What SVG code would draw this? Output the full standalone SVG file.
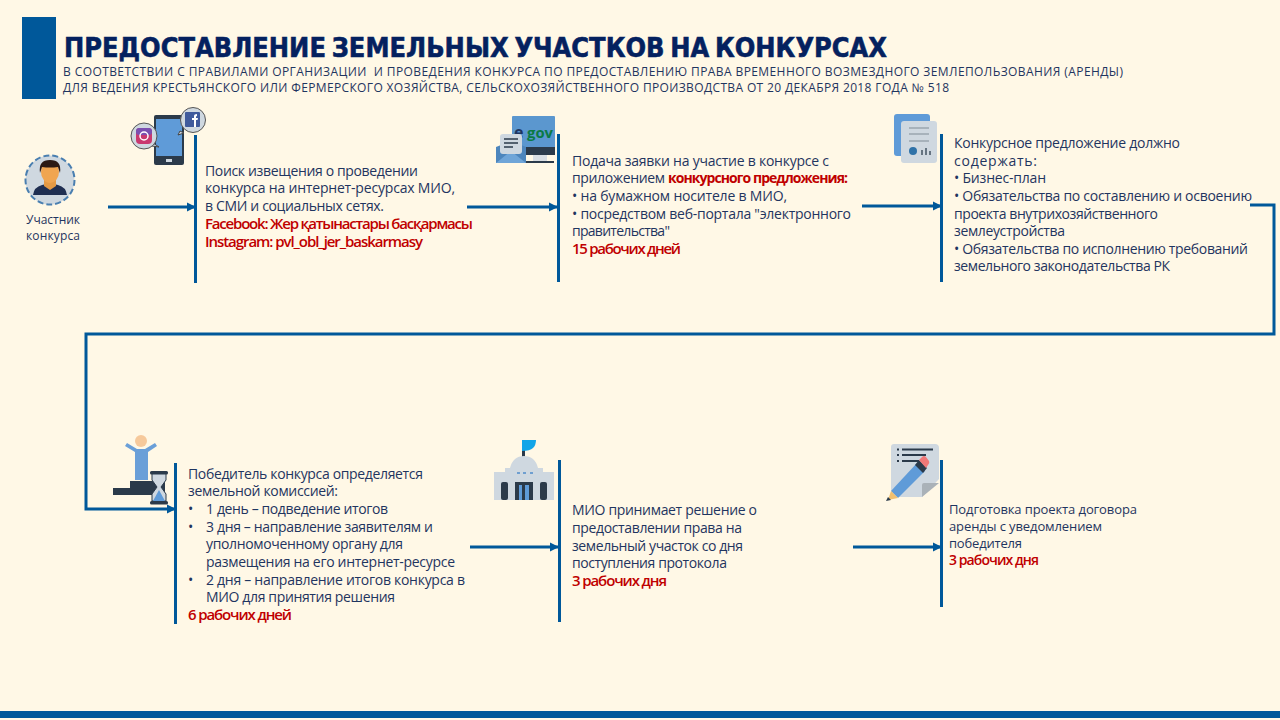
<svg xmlns="http://www.w3.org/2000/svg" width="1280" height="720" viewBox="0 0 1280 720">
<style>
text{font-family:"Open Sans","Noto Sans","Liberation Sans",sans-serif;fill:#1f3560}
.b{font-size:14px}
.s{font-size:13px}
.h{font-size:12px;white-space:pre}
.r{font-size:15px;fill:#c00000;font-weight:600}
.rs{font-size:14px;fill:#c00000;font-weight:600}
.t{font-size:27px;font-weight:800;fill:#04215f;stroke:#04215f;stroke-width:.6;word-spacing:-3px;font-family:"DejaVu Sans","Open Sans",sans-serif}
.bar{fill:#00589a}
.c{fill:none;stroke:#00589a;stroke-width:3}
.ink{fill:#2b3a4a}
.g{fill:#cfd8e0}
.bl{fill:#5f9bd8}
</style>
<defs>
<marker id="a" markerUnits="userSpaceOnUse" markerWidth="10" markerHeight="10" refX="8" refY="5" orient="auto"><path d="M0 0.5L9 5L0 9.500Z" fill="#00589a"/></marker>
</defs>
<rect width="1280" height="720" fill="#fff8e6"/>
<g id="header">
<rect class="bar" x="22" y="17" width="34" height="82"/>
<text class="t" x="64" y="57" textLength="823" lengthAdjust="spacingAndGlyphs">ПРЕДОСТАВЛЕНИЕ ЗЕМЕЛЬНЫХ УЧАСТКОВ НА КОНКУРСАХ</text>
<text class="h" x="63" y="76" textLength="1060" lengthAdjust="spacing">В СООТВЕТСТВИИ С ПРАВИЛАМИ ОРГАНИЗАЦИИ  И ПРОВЕДЕНИЯ КОНКУРСА ПО ПРЕДОСТАВЛЕНИЮ ПРАВА ВРЕМЕННОГО ВОЗМЕЗДНОГО ЗЕМЛЕПОЛЬЗОВАНИЯ (АРЕНДЫ)</text>
<text class="h" x="63" y="92" textLength="886" lengthAdjust="spacing">ДЛЯ ВЕДЕНИЯ КРЕСТЬЯНСКОГО ИЛИ ФЕРМЕРСКОГО ХОЗЯЙСТВА, СЕЛЬСКОХОЗЯЙСТВЕННОГО ПРОИЗВОДСТВА ОТ 20 ДЕКАБРЯ 2018 ГОДА № 518</text>
</g>
<g id="connectors">
<path class="c" marker-end="url(#a)" d="M108 207H195"/>
<path class="c" marker-end="url(#a)" d="M467 207H557"/>
<path class="c" marker-end="url(#a)" d="M862 206H941"/>
<path class="c" marker-end="url(#a)" d="M1250 205H1274V334H86V509H175"/>
<path class="c" marker-end="url(#a)" d="M470 547H558"/>
<path class="c" marker-end="url(#a)" d="M853 547H941"/>
</g>
<g id="participant">
<circle cx="50" cy="180" r="24.500" fill="#cfd8e0" stroke="#4a7fb0" stroke-width="2" stroke-dasharray="6 3"/>
<path d="M33 195q1-8 9-10l8-2 8 2q8 2 9 10Z" fill="#1f2f52"/>
<path d="M44 176h12v10l-6 4-6-4Z" fill="#e59a45"/>
<ellipse cx="50" cy="172" rx="9" ry="11" fill="#f0a550"/>
<path d="M40 173q-2-13 10-13t10 13l-2-6q-8 1-16 0Z" fill="#2c1a14"/>
<text class="h" x="26" y="224" textLength="54" lengthAdjust="spacing">Участник</text>
<text class="h" x="26" y="240" textLength="54" lengthAdjust="spacing">конкурса</text>
</g>
<g id="step1">
<rect class="bar" x="194" y="135" width="3" height="148"/>
<rect class="ink" x="154" y="115" width="30" height="50" rx="2"/>
<rect class="bl" x="156" y="119" width="26" height="37"/>
<rect x="166" y="159" width="6" height="3" fill="#cfd8e0"/>
<path d="M180 131l-2 4 6-2Z" fill="#cfd8e0" stroke="#444"/>
<circle cx="193" cy="120" r="12.500" fill="#cfd8e0" stroke="#555"/>
<rect x="185" y="112" width="15" height="15" rx="1" fill="#3f5a9c"/>
<path d="M194 127v-7h-2v-2h2v-2q0-2 3-2v2q-1 0-1 1v1h2l-.5 2H196v7Z" fill="#fff"/>
<path d="M153 143l6 4-7-1Z" fill="#cfd8e0" stroke="#444"/>
<circle cx="144" cy="136" r="13" fill="#cfd8e0" stroke="#555"/>
<rect x="136" y="128" width="16" height="16" rx="4" fill="#c9386f"/>
<rect x="136" y="128" width="16" height="7" rx="3" fill="#7b4fb0"/>
<circle cx="144" cy="136" r="4" fill="none" stroke="#fff" stroke-width="1.500"/>
<text class="b" x="205" y="176" textLength="213" lengthAdjust="spacing">Поиск извещения о проведении</text>
<text class="b" x="205" y="193" textLength="250" lengthAdjust="spacing">конкурса на интернет-ресурсах МИО,</text>
<text class="b" x="205" y="211" textLength="179" lengthAdjust="spacing">в СМИ и социальных сетях.</text>
<text class="r" x="205" y="229" textLength="268" lengthAdjust="spacing">Facebook: Жер қатынастары басқармасы</text>
<text class="r" x="205" y="247" textLength="218" lengthAdjust="spacing">Instagram: pvl_obl_jer_baskarmasy</text>
</g>
<g id="step2">
<rect class="bar" x="557" y="134" width="3" height="148"/>
<rect x="512" y="116" width="43" height="39" rx="1" fill="#5b97cf"/>
<text x="514" y="138" style="font-size:16px;font-weight:700;fill:#1f3560">e</text>
<text x="527" y="138" textLength="26" lengthAdjust="spacingAndGlyphs" style="font-size:15px;font-weight:700;fill:#0a7a45">gov</text>
<rect class="ink" x="526" y="147" width="29" height="8"/>
<rect x="533" y="155" width="14" height="7" fill="#d8dde2"/>
<rect x="526" y="161" width="28" height="2" fill="#2b3a4a"/>
<path d="M496 147l15-6 15 6v16h-30Z" fill="#4d86bd"/>
<path d="M496 163l15-12 15 12Z" fill="#6fa5d8"/>
<rect x="500" y="134" width="22" height="20" rx="3" fill="#cfd8e0"/>
<path d="M504 139h14M504 143h14M504 147h9" stroke="#2b3a4a" stroke-width="1.500"/>
<text class="b" x="572" y="166" textLength="257" lengthAdjust="spacing">Подача заявки на участие в конкурсе с</text>
<text class="b" x="572" y="183" textLength="93" lengthAdjust="spacing">приложением</text>
<text class="rs" x="668" y="183" textLength="180" lengthAdjust="spacing" style="font-weight:700">конкурсного предложения:</text>
<text class="b" x="572" y="201" textLength="215" lengthAdjust="spacing">• на бумажном носителе в МИО,</text>
<text class="b" x="572" y="219" textLength="279" lengthAdjust="spacing">• посредством веб-портала "электронного</text>
<text class="b" x="572" y="236" textLength="98" lengthAdjust="spacing">правительства"</text>
<text class="r" x="572" y="254" textLength="109" lengthAdjust="spacing">15 рабочих дней</text>
</g>
<g id="step3">
<rect class="bar" x="940" y="134" width="3" height="148"/>
<rect x="894" y="114" width="36" height="42" rx="3" fill="#5f9bd8"/>
<rect x="901" y="121" width="36" height="42" rx="3" fill="#cfd8e0"/>
<path d="M909 128h20M909 134h20M909 141h20" stroke="#9aa5ae" stroke-width="1.500"/>
<circle cx="913" cy="151" r="4" fill="#2f72a8"/>
<path d="M922 155v-5M926 155v-7M930 155v-4" stroke="#5a6a78" stroke-width="1.800"/>
<text class="b" x="954" y="148" textLength="226" lengthAdjust="spacing">Конкурсное предложение должно</text>
<text class="b" x="954" y="166" textLength="83" lengthAdjust="spacing">содержать:</text>
<text class="b" x="954" y="183" textLength="92" lengthAdjust="spacing">• Бизнес-план</text>
<text class="b" x="954" y="201" textLength="298" lengthAdjust="spacing">• Обязательства по составлению и освоению</text>
<text class="b" x="954" y="219" textLength="204" lengthAdjust="spacing">проекта внутрихозяйственного</text>
<text class="b" x="954" y="236" textLength="111" lengthAdjust="spacing">землеустройства</text>
<text class="b" x="954" y="254" textLength="294" lengthAdjust="spacing">• Обязательства по исполнению требований</text>
<text class="b" x="954" y="271" textLength="216" lengthAdjust="spacing">земельного законодательства РК</text>
</g>
<g id="step4">
<rect class="bar" x="174" y="463" width="3" height="161"/>
<rect class="ink" x="130" y="481" width="35" height="14"/>
<rect class="ink" x="113" y="488" width="40" height="7"/>
<path d="M135 480v-28l-10-6 2-3 10 6h8l10-6 2 3-9 6v28Z" fill="#6a9fd8"/>
<circle cx="141" cy="441" r="6" fill="#f6c99b"/>
<rect class="ink" x="150" y="471" width="18" height="3.500" rx="1.500"/>
<rect class="ink" x="150" y="501" width="18" height="3.500" rx="1.500"/>
<path d="M152 474h14v6l-5 7 5 7v7h-14v-7l5-7-5-7Z" fill="#cfd8e0" stroke="#2b3a4a"/>
<path d="M159 490l6 11h-12Z" fill="#5f9bd8"/>
<text class="b" x="188" y="479" textLength="235" lengthAdjust="spacing">Победитель конкурса определяется</text>
<text class="b" x="188" y="496" textLength="150" lengthAdjust="spacing">земельной комиссией:</text>
<text class="b" x="188" y="514">•</text>
<text class="b" x="206" y="514" textLength="182" lengthAdjust="spacing">1 день – подведение итогов</text>
<text class="b" x="188" y="532">•</text>
<text class="b" x="206" y="532" textLength="227" lengthAdjust="spacing">3 дня – направление заявителям и</text>
<text class="b" x="206" y="549" textLength="197" lengthAdjust="spacing">уполномоченному органу для</text>
<text class="b" x="206" y="567" textLength="249" lengthAdjust="spacing">размещения на его интернет-ресурсе</text>
<text class="b" x="188" y="585">•</text>
<text class="b" x="206" y="585" textLength="259" lengthAdjust="spacing">2 дня – направление итогов конкурса в</text>
<text class="b" x="206" y="602" textLength="189" lengthAdjust="spacing">МИО для принятия решения</text>
<text class="r" x="188" y="620" textLength="104" lengthAdjust="spacing">6 рабочих дней</text>
</g>
<g id="step5">
<rect class="bar" x="558" y="460" width="3" height="162"/>
<rect class="ink" x="522" y="445" width="3" height="12"/>
<path d="M522 440h14q0 5-3 8t-11 3Z" fill="#12a5e8"/>
<path d="M510 468q3-12 14-12t14 12h5v4h-38v-4Z" fill="#cfd8e0"/>
<rect class="g" x="494" y="472" width="60" height="28"/>
<rect x="508" y="471" width="32" height="10" fill="#cfd8e0"/>
<path d="M517 473h3M523 473h3M530 473h3" stroke="#6f9fd0" stroke-width="2"/>
<rect class="ink" x="501" y="482" width="7" height="18" rx="2"/>
<rect class="ink" x="540" y="482" width="7" height="18" rx="2"/>
<rect class="ink" x="515" y="482" width="18" height="18"/>
<path d="M519 485h3v15h-3ZM525 485h4v15h-4Z" fill="#5f9bd8"/>
<text class="b" x="572" y="515" textLength="185" lengthAdjust="spacing">МИО принимает решение о</text>
<text class="b" x="572" y="533" textLength="170" lengthAdjust="spacing">предоставлении права на</text>
<text class="b" x="572" y="551" textLength="171" lengthAdjust="spacing">земельный участок со дня</text>
<text class="b" x="572" y="568" textLength="155" lengthAdjust="spacing">поступления протокола</text>
<text class="r" x="572" y="586" textLength="95" lengthAdjust="spacing">3 рабочих дня</text>
</g>
<g id="step6">
<rect class="bar" x="940" y="460" width="3" height="147"/>
<path d="M894 444h41q4 0 4 4v31l-17 18h-28q-3 0-3-3v-47q0-3 3-3Z" fill="#cfd8e0"/>
<path d="M922 497v-12q0-2 2-2h15Z" fill="#aab2b8"/>
<path d="M897 449.500h2M902 449.500h31M897 455h2M902 455h24M897 461h2M902 461h17" stroke="#2b3a4a" stroke-width="1.800"/>
<path d="M891 491l26-28 8 8-27 27Z" fill="#5f9bd8"/>
<path d="M915 465l4-5 8 8-4 5Z" fill="#2b3a4a"/>
<path d="M919 460l3-3q2-2 4 0l3 4q1 2-1 4l-2 3Z" fill="#f07878"/>
<path d="M891 491l7 7-10 2Z" fill="#f0c070"/>
<path d="M886 501l2-4 3 3Z" fill="#2b3a4a"/>
<text class="s" x="949" y="514" textLength="188" lengthAdjust="spacing">Подготовка проекта договора</text>
<text class="s" x="949" y="531" textLength="153" lengthAdjust="spacing">аренды с уведомлением</text>
<text class="s" x="949" y="548" textLength="73" lengthAdjust="spacing">победителя</text>
<text class="rs" x="949" y="565" textLength="90" lengthAdjust="spacing">3 рабочих дня</text>
</g>
<g id="footer">
<rect class="bar" x="0" y="711" width="1280" height="7"/>
</g>
</svg>
